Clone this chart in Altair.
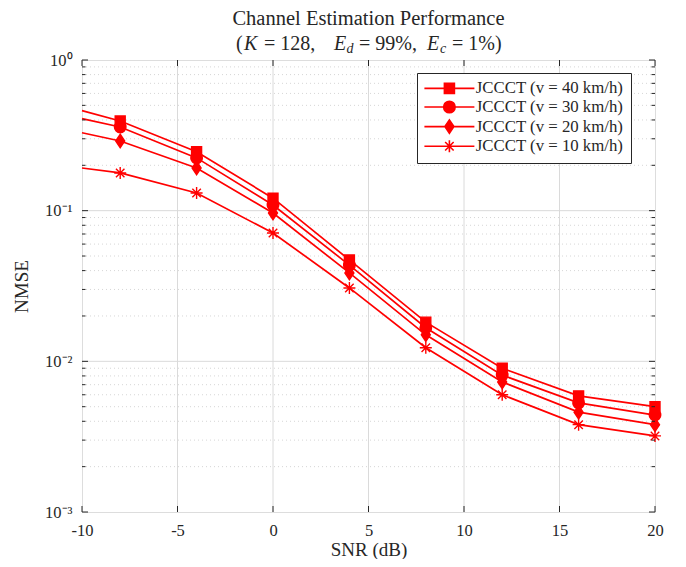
import altair as alt
import pandas as pd

# ---------------- data ----------------
snr = [-10, -8, -4, 0, 4, 8, 12, 16, 20]
marker_snr = [-8, -4, 0, 4, 8, 12, 16, 20]
nmse_40 = [0.461, 0.394, 0.246, 0.121, 0.0471, 0.0182, 0.0090, 0.0059, 0.0050]
nmse_30 = [0.408, 0.359, 0.224, 0.109, 0.0435, 0.0167, 0.0081, 0.0053, 0.0044]
nmse_20 = [0.329, 0.290, 0.192, 0.0965, 0.0386, 0.0150, 0.0073, 0.0046, 0.0038]
nmse_10 = [0.192, 0.178, 0.131, 0.0711, 0.0307, 0.0123, 0.0060, 0.0038, 0.0032]
series = ["JCCCT (v = 40 km/h)", "JCCCT (v = 30 km/h)",
          "JCCCT (v = 20 km/h)", "JCCCT (v = 10 km/h)"]

x_ticks = [-10, -5, 0, 5, 10, 15, 20]
x_grid = [-5, 0, 5, 10, 15]
y_major = [1e-3, 1e-2, 1e-1, 1.0]
y_grid = [1e-2, 1e-1]
y_minor = [k * 10.0 ** e for e in (-3, -2, -1) for k in range(2, 10)]

title_line1 = "Channel Estimation Performance"

# ---------------- tables ----------------
rows = []
for name, vals in zip(series, [nmse_40, nmse_30, nmse_20, nmse_10]):
    for s, v in zip(snr, vals):
        rows.append({"series": name, "snr": s, "nmse": v, "marker": s in marker_snr})
df = pd.DataFrame(rows)
df_pts = df[df["marker"]]

FONT = "Liberation Serif"
TXT = "#262626"
RED = "#ff0000"
W, H = 573, 452

xscale = alt.Scale(domain=[-10, 20], nice=False, zero=False)
yscale = alt.Scale(type="log", domain=[1e-3, 1], nice=False)

xaxis = alt.Axis(
    values=x_ticks,
    labelExpr="datum.value < 0 ? '-' + abs(datum.value) : '' + datum.value",
    grid=False, ticks=False, tickSize=0, domain=False,
    labelFont=FONT, labelFontSize=16.5, labelColor=TXT,
    labelBaseline="alphabetic", labelPadding=23, labelFlush=False,
    title="SNR (dB)", titleFont=FONT, titleFontSize=19, titleFontWeight="normal",
    titleColor=TXT, titleX=W / 2, titleY=43, titleBaseline="alphabetic",
)
yaxis = alt.Axis(
    values=y_major,
    labelExpr="datum.value >= 0.5 ? '10⁰' : datum.value >= 0.05 ? '10⁻¹' : datum.value >= 0.005 ? '10⁻²' : '10⁻³'",
    grid=False, ticks=False, tickSize=0, domain=False,
    labelFont=FONT, labelFontSize=16.5, labelColor=TXT,
    labelBaseline="middle", labelPadding=10, labelFlush=False,
    title="NMSE", titleFont=FONT, titleFontSize=19, titleFontWeight="normal",
    titleColor=TXT, titleX=-55, titleY=H / 2, titleBaseline="alphabetic",
)

X = alt.X("snr:Q", scale=xscale, axis=xaxis)
Y = alt.Y("nmse:Q", scale=yscale, axis=yaxis)

# grids
grid_x = alt.Chart(pd.DataFrame({"snr": x_grid})).mark_rule(
    color="#dadada", strokeWidth=1).encode(x=X)
grid_y = alt.Chart(pd.DataFrame({"nmse": y_grid})).mark_rule(
    color="#dadada", strokeWidth=1).encode(y=Y)
grid_minor = alt.Chart(pd.DataFrame({"nmse": y_minor})).mark_rule(
    color="#d6d6d6", strokeWidth=1, strokeDash=[1, 3]).encode(y=Y)

# lines
lines = alt.Chart(df).mark_line(color=RED, strokeWidth=1.7).encode(
    x=X, y=Y, detail="series:N")

# markers
marker_paths = [
    "M-1,-1H1V1H-1Z",
    "M-1.15,0A1.15,1.15,0,1,0,1.15,0A1.15,1.15,0,1,0,-1.15,0Z",
    "M0,-1.35L0.9,0L0,1.35L-0.9,0Z",
    "M0,-1.2V1.2M-1.2,0H1.2M-0.85,-0.85L0.85,0.85M-0.85,0.85L0.85,-0.85",
]
legend_paths = ["M-5,0H5" + p for p in marker_paths]

points = alt.Chart(df_pts).mark_point(
    filled=True, fill=RED, stroke=RED, strokeWidth=1.4, opacity=1, size=100
).encode(
    x=X, y=Y,
    shape=alt.Shape("series:N", scale=alt.Scale(domain=series, range=marker_paths), legend=None),
)


def legend_layer(filled, z):
    common = dict(
        title=None, orient="none", legendX=335, legendY=13,
        padding=7, cornerRadius=0,
        labelFont=FONT, labelFontSize=16.8, labelColor=TXT,
        symbolSize=100, symbolStrokeWidth=1.6,
        symbolFillColor=RED, symbolStrokeColor=RED, symbolOpacity=1,
        rowPadding=-0.4, symbolOffset=17, labelOffset=18, labelLimit=300, zindex=z,
    )
    if filled:
        common.update(fillColor="white", strokeColor=TXT)
    else:
        common.update(labelExpr="' '")
    return alt.Chart(df).transform_filter("false").mark_point(
        filled=filled, color=RED, strokeWidth=1.6, opacity=1, size=100
    ).encode(
        x=X, y=Y,
        shape=alt.Shape(
            "series:N",
            scale=alt.Scale(domain=series, range=legend_paths),
            legend=alt.Legend(**common),
        ),
    )


legend_fill = legend_layer(True, 1)
legend_stroke = legend_layer(False, 2)

# inward ticks
tick_major_l = alt.Chart(pd.DataFrame({"nmse": y_major})).mark_rule(color=TXT).encode(
    y=Y, x=alt.value(0), x2=alt.value(6))
tick_major_r = alt.Chart(pd.DataFrame({"nmse": y_major})).mark_rule(color=TXT).encode(
    y=Y, x=alt.value(W), x2=alt.value(W - 6))
tick_minor_l = alt.Chart(pd.DataFrame({"nmse": y_minor})).mark_rule(color=TXT).encode(
    y=Y, x=alt.value(0), x2=alt.value(3.5))
tick_minor_r = alt.Chart(pd.DataFrame({"nmse": y_minor})).mark_rule(color=TXT).encode(
    y=Y, x=alt.value(W), x2=alt.value(W - 3.5))
tick_x_b = alt.Chart(pd.DataFrame({"snr": x_ticks})).mark_rule(color=TXT).encode(
    x=X, y=alt.value(H), y2=alt.value(H - 6))
tick_x_t = alt.Chart(pd.DataFrame({"snr": x_ticks})).mark_rule(color=TXT).encode(
    x=X, y=alt.value(0), y2=alt.value(6))


# title as text marks
def txt(s, x, y, size=20, italic=False, align="left"):
    return alt.Chart(pd.DataFrame({"t": [s]})).mark_text(
        font=FONT, fontSize=size, color=TXT, align=align, baseline="alphabetic",
        fontStyle="italic" if italic else "normal",
    ).encode(text="t:N", x=alt.value(x), y=alt.value(y))


B2 = -10.5
titles = [
    txt(title_line1, W / 2, -35, size=20.5, align="center"),
    txt("(", 154, B2),
    txt("K", 162, B2, italic=True),
    txt("= 128,", 182, B2),
    txt("E", 252, B2, italic=True),
    txt("d", 264.5, B2 + 3.5, size=14, italic=True),
    txt("= 99%,", 277, B2),
    txt("E", 345, B2, italic=True),
    txt("c", 358, B2 + 3.5, size=14, italic=True),
    txt("= 1%)", 370, B2),
]

chart = alt.layer(
    grid_minor, grid_x, grid_y, lines, points,
    tick_major_l, tick_major_r, tick_minor_l, tick_minor_r, tick_x_b, tick_x_t,
    legend_fill, legend_stroke, *titles,
).resolve_scale(shape="independent").properties(
    width=W, height=H,
    autosize=alt.AutoSizeParams(type="none"),
    padding={"left": 74, "top": 52, "right": 23, "bottom": 47},
).configure_view(stroke=TXT, strokeWidth=1).configure(background="white")

chart.save("out.html", embed_options={"renderer": "svg", "actions": False})
